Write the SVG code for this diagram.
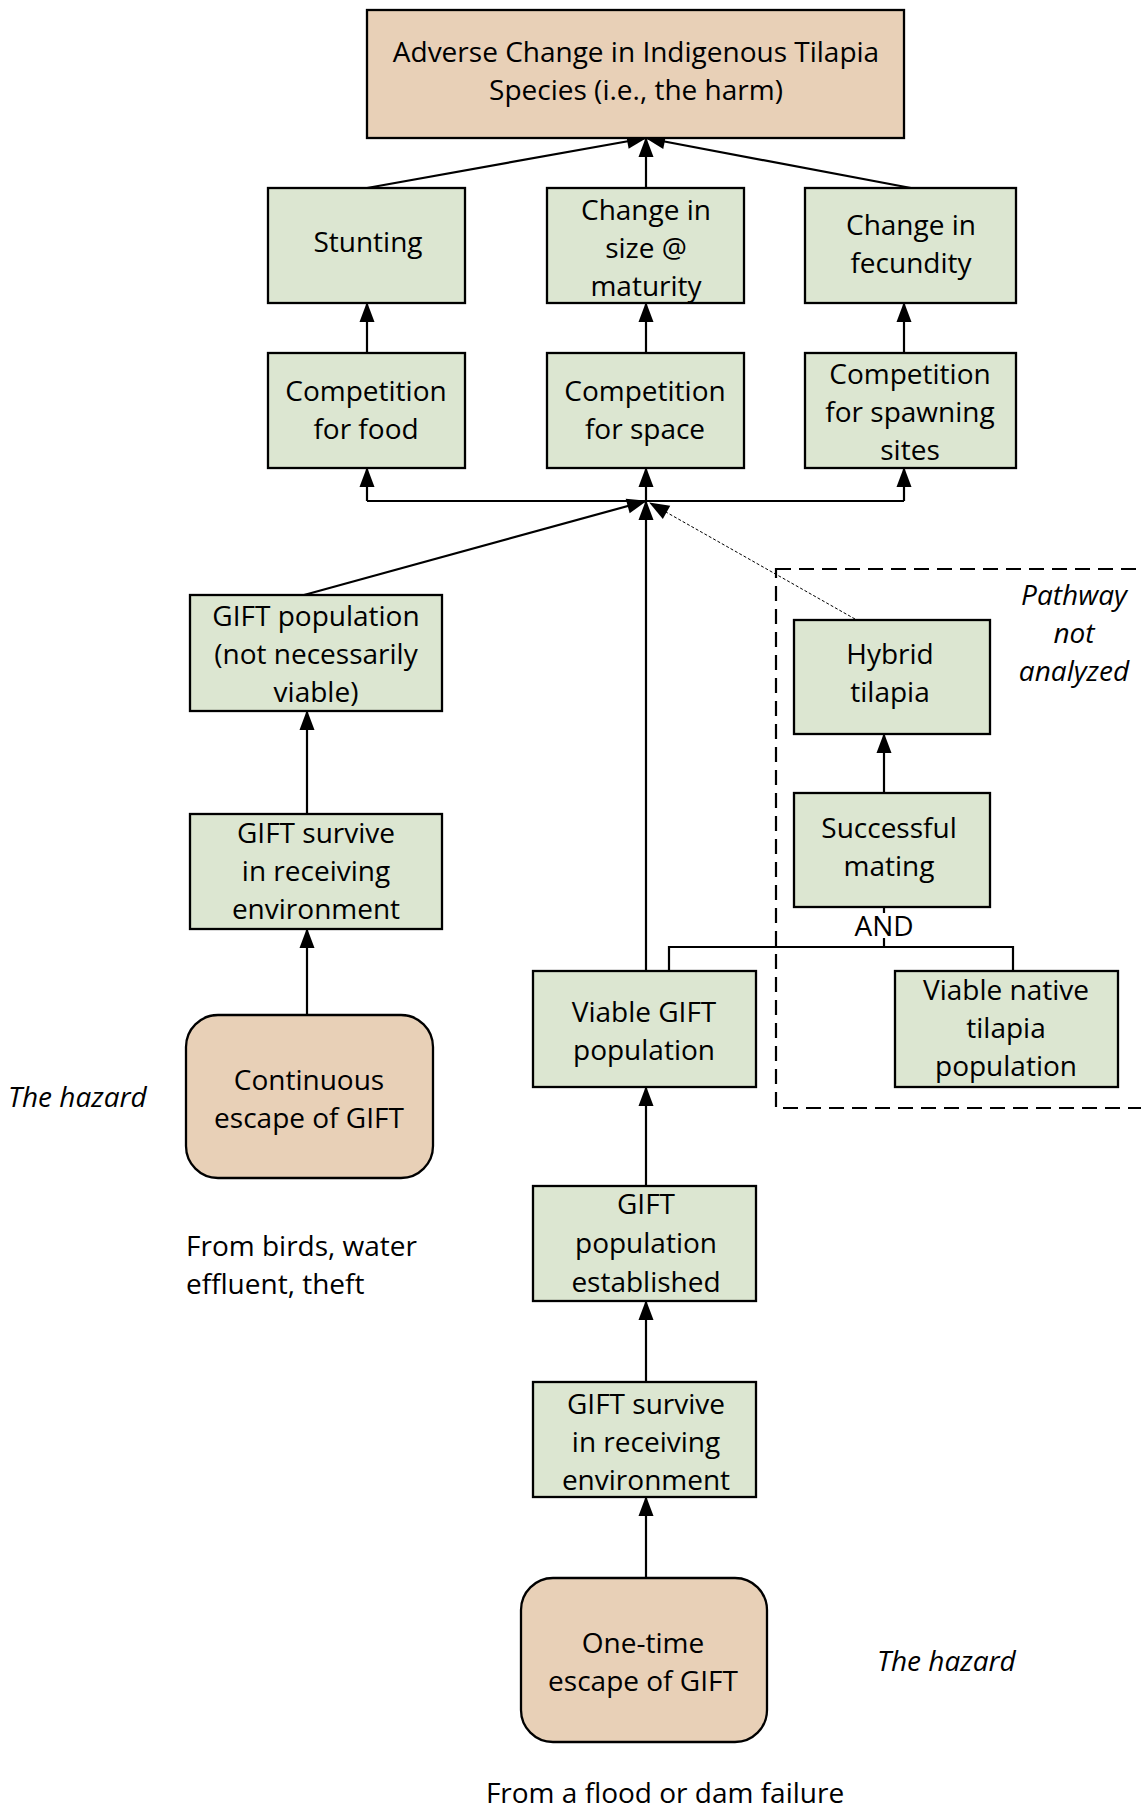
<svg xmlns="http://www.w3.org/2000/svg" width="1141" height="1809" viewBox="0 0 1141 1809">
  <defs>
    <marker id="arrow" markerUnits="userSpaceOnUse" viewBox="0 0 20 16" markerWidth="20" markerHeight="16" refX="19" refY="8" orient="auto" overflow="visible">
      <path d="M0,0.5 L20,8 L0,15.5 z" fill="#000"/>
    </marker>
    <style>
      .box { fill: #DCE6D1; stroke: #000; stroke-width: 2.3; }
      .harm { fill: #E8D0B7; stroke: #000; stroke-width: 2.3; }
      .hazard { fill: #E8D0B7; stroke: #000; stroke-width: 2.3; }
      .lbl { font-family: "Open Sans", "Noto Sans", sans-serif; font-size: 28px; fill: #000; text-anchor: middle; }
      .note { font-family: "Open Sans", "Noto Sans", sans-serif; font-size: 28px; fill: #000; }
      .it { font-style: italic; }
      .edge { fill: none; stroke: #000; stroke-width: 2.2; }
      .arr { marker-end: url(#arrow); }
      .dot { fill: none; stroke: #000; stroke-width: 1; stroke-dasharray: 3 2; }
      .region { fill: none; stroke: #000; stroke-width: 2.2; stroke-dasharray: 15 8; }
    </style>
  </defs>

  <!-- boundary of the pathway left out of the analysis -->
  <g id="unanalyzed-region">
    <rect class="region" x="776" y="569" width="420" height="539"/>
    <text class="note it" x="1074" y="605" text-anchor="middle">Pathway</text>
    <text class="note it" x="1074" y="643" text-anchor="middle">not</text>
    <text class="note it" x="1074" y="681" text-anchor="middle">analyzed</text>
  </g>

  <!-- connectors -->
  <g id="connectors">
    <!-- into the harm -->
    <line class="edge arr" x1="367" y1="188" x2="646" y2="138"/>
    <line class="edge arr" x1="646" y1="188" x2="646" y2="138"/>
    <line class="edge arr" x1="911" y1="188" x2="646" y2="138"/>
    <!-- competition to effects -->
    <line class="edge arr" x1="367" y1="353" x2="367" y2="303"/>
    <line class="edge arr" x1="646" y1="353" x2="646" y2="303"/>
    <line class="edge arr" x1="904" y1="353" x2="904" y2="303"/>
    <!-- distribution bar to the three competition nodes -->
    <path class="edge" d="M367,501 H904"/>
    <line class="edge arr" x1="367" y1="501" x2="367" y2="468"/>
    <line class="edge arr" x1="646" y1="501" x2="646" y2="468"/>
    <line class="edge arr" x1="904" y1="501" x2="904" y2="468"/>
    <!-- populations into the bar -->
    <line class="edge arr" x1="304" y1="595" x2="646" y2="501"/>
    <line class="edge arr" x1="646" y1="971" x2="646" y2="501"/>
    <line class="dot arr" x1="855" y1="619" x2="650" y2="503"/>
    <!-- continuous escape chain -->
    <line class="edge arr" x1="307" y1="814" x2="307" y2="711"/>
    <line class="edge arr" x1="307" y1="1015" x2="307" y2="929"/>
    <!-- one-time escape chain -->
    <line class="edge arr" x1="646" y1="1186" x2="646" y2="1087"/>
    <line class="edge arr" x1="646" y1="1382" x2="646" y2="1301"/>
    <line class="edge arr" x1="646" y1="1578" x2="646" y2="1497"/>
    <!-- hybridisation pathway -->
    <line class="edge arr" x1="884" y1="793" x2="884" y2="734"/>
    <path class="edge" d="M884,907 V913 M884,938 V947"/>
    <path class="edge" d="M669,971 V947 H1013 V971"/>
    <text class="lbl" x="884" y="936">AND</text>
  </g>

  <g id="harm">
    <rect class="harm" x="367" y="10" width="537" height="128"/>
    <text class="lbl" x="636" y="62">Adverse Change in Indigenous Tilapia</text>
    <text class="lbl" x="636" y="100">Species (i.e., the harm)</text>
  </g>

  <g id="stunting">
    <rect class="box" x="268" y="188" width="197" height="115"/>
    <text class="lbl" x="368" y="252">Stunting</text>
  </g>

  <g id="size-at-maturity">
    <rect class="box" x="547" y="188" width="197" height="115"/>
    <text class="lbl" x="646" y="220">Change in</text>
    <text class="lbl" x="646" y="258">size @</text>
    <text class="lbl" x="646" y="296">maturity</text>
  </g>

  <g id="fecundity">
    <rect class="box" x="805" y="188" width="211" height="115"/>
    <text class="lbl" x="911" y="235">Change in</text>
    <text class="lbl" x="911" y="273">fecundity</text>
  </g>

  <g id="competition-food">
    <rect class="box" x="268" y="353" width="197" height="115"/>
    <text class="lbl" x="366" y="401">Competition</text>
    <text class="lbl" x="366" y="439">for food</text>
  </g>

  <g id="competition-space">
    <rect class="box" x="547" y="353" width="197" height="115"/>
    <text class="lbl" x="645" y="401">Competition</text>
    <text class="lbl" x="645" y="439">for space</text>
  </g>

  <g id="competition-spawning">
    <rect class="box" x="805" y="353" width="211" height="115"/>
    <text class="lbl" x="910" y="384">Competition</text>
    <text class="lbl" x="910" y="422">for spawning</text>
    <text class="lbl" x="910" y="460">sites</text>
  </g>

  <g id="gift-population">
    <rect class="box" x="190" y="595" width="252" height="116"/>
    <text class="lbl" x="316" y="626">GIFT population</text>
    <text class="lbl" x="316" y="664">(not necessarily</text>
    <text class="lbl" x="316" y="702">viable)</text>
  </g>

  <g id="gift-survive-continuous">
    <rect class="box" x="190" y="814" width="252" height="115"/>
    <text class="lbl" x="316" y="843">GIFT survive</text>
    <text class="lbl" x="316" y="881">in receiving</text>
    <text class="lbl" x="316" y="919">environment</text>
  </g>

  <g id="continuous-escape">
    <rect class="hazard" x="186" y="1015" width="247" height="163" rx="32" ry="32"/>
    <text class="lbl" x="309" y="1090">Continuous</text>
    <text class="lbl" x="309" y="1128">escape of GIFT</text>
  </g>
  <text class="note it" x="8" y="1107">The hazard</text>
  <text class="note" x="186" y="1256">From birds, water</text>
  <text class="note" x="186" y="1294">effluent, theft</text>

  <g id="viable-gift">
    <rect class="box" x="533" y="971" width="223" height="116"/>
    <text class="lbl" x="644" y="1022">Viable GIFT</text>
    <text class="lbl" x="644" y="1060">population</text>
  </g>

  <g id="gift-established">
    <rect class="box" x="533" y="1186" width="223" height="115"/>
    <text class="lbl" x="646" y="1214">GIFT</text>
    <text class="lbl" x="646" y="1253">population</text>
    <text class="lbl" x="646" y="1292">established</text>
  </g>

  <g id="gift-survive-onetime">
    <rect class="box" x="533" y="1382" width="223" height="115"/>
    <text class="lbl" x="646" y="1414">GIFT survive</text>
    <text class="lbl" x="646" y="1452">in receiving</text>
    <text class="lbl" x="646" y="1490">environment</text>
  </g>

  <g id="onetime-escape">
    <rect class="hazard" x="521" y="1578" width="246" height="164" rx="32" ry="32"/>
    <text class="lbl" x="643" y="1653">One-time</text>
    <text class="lbl" x="643" y="1691">escape of GIFT</text>
  </g>
  <text class="note it" x="877" y="1671">The hazard</text>
  <text class="lbl" x="665" y="1803">From a flood or dam failure</text>

  <g id="hybrid-tilapia">
    <rect class="box" x="794" y="620" width="196" height="114"/>
    <text class="lbl" x="890" y="664">Hybrid</text>
    <text class="lbl" x="890" y="702">tilapia</text>
  </g>

  <g id="successful-mating">
    <rect class="box" x="794" y="793" width="196" height="114"/>
    <text class="lbl" x="889" y="838">Successful</text>
    <text class="lbl" x="889" y="876">mating</text>
  </g>

  <g id="viable-native">
    <rect class="box" x="895" y="971" width="223" height="116"/>
    <text class="lbl" x="1006" y="1000">Viable native</text>
    <text class="lbl" x="1006" y="1038">tilapia</text>
    <text class="lbl" x="1006" y="1076">population</text>
  </g>
</svg>
